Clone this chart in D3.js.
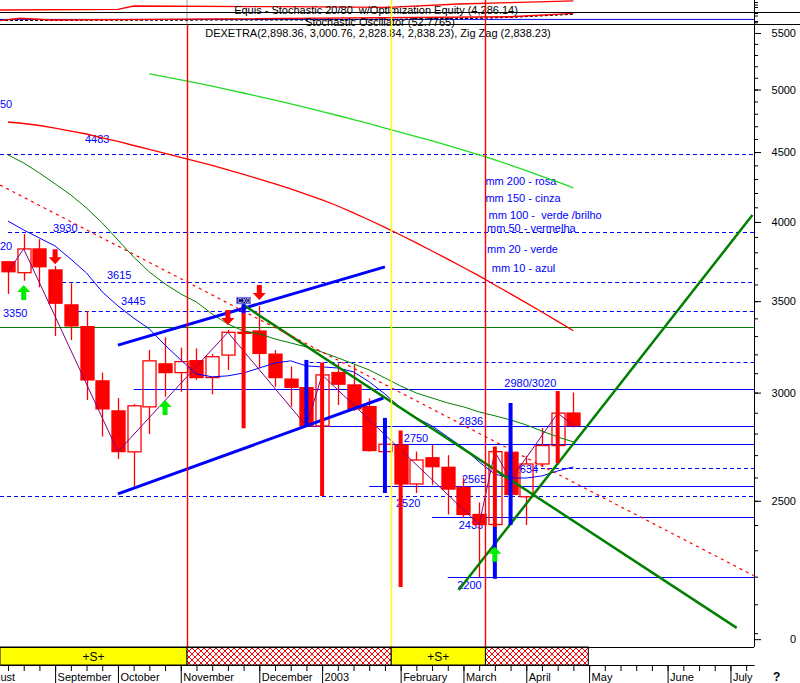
<!DOCTYPE html>
<html><head><meta charset="utf-8">
<script src="https://cdn.jsdelivr.net/npm/d3@7"></script>
<style>
body{margin:0;background:#fff;}
svg{display:block;font-family:"Liberation Sans",Arial,sans-serif;}
</style></head><body>
<svg id="c" width="800" height="683"></svg>
<script>
// ---------------- DATA ----------------
const weekDates = ["2002-08-16","2002-08-23","2002-08-30","2002-09-06","2002-09-13","2002-09-20","2002-09-27","2002-10-04","2002-10-11","2002-10-18","2002-10-25","2002-11-01","2002-11-08","2002-11-15","2002-11-22","2002-11-29","2002-12-06","2002-12-13","2002-12-20","2002-12-27","2003-01-03","2003-01-10","2003-01-17","2003-01-24","2003-01-31","2003-02-07","2003-02-14","2003-02-21","2003-02-28","2003-03-07","2003-03-14","2003-03-21","2003-03-28","2003-04-04","2003-04-11","2003-04-17","2003-04-25"];
const openV  = [3740,3672,3822,3689,3478,3353,3060,2909,2715,2929,3149,3103,3166,3077,3196,3321,3328,3201,3069,3025,2836,3103,3039,2930,2716,2745,2572,2688,2645,2557,2443,2402,2713,2517,2660,2744,2898.36];
const highV  = [3745,3920,3885,3714,3607,3442,3103,2973,2943,3223,3293,3236,3232,3202,3334,3345,3471,3223,3135,3034,3117,3152,3143,2971,2790,2750,2716,2747,2700,2600,2493,2740,2760,2697,2826,3008,3000.76];
const lowV   = [3543,3623,3583,3300,3278,2963,2786,2683,2560,2798,2979,3004,3065,2991,3117,3290,3126,3030,2930,2831,2830,2938,2909,2716,2650,2560,2533,2568,2443,2430,2198,2390,2470,2400,2650,2664,2828.84];
const closeV = [3678,3822,3709,3488,3357,3065,2919,2716,2934,3165,3103,3161,3077,3187,3321,3316,3205,3077,3027,2836,3091,3043,2919,2721,2750,2572,2678,2648,2550,2443,2402,2716,2527,2660,2744,2898,2838.23];

const maRed   = [4734,4722,4706,4686,4662,4639,4608,4581,4550,4520,4490,4460,4430,4400,4366,4333,4300,4265,4229,4190,4151,4109,4061,4013,3963,3913,3861,3809,3757,3704,3652,3597,3543,3490,3437,3383,3330];
const maLime  = [null,null,null,null,null,null,null,null,null,5134,5108,5082,5056,5028,4999,4971,4941,4911,4880,4849,4818,4786,4753,4720,4686,4652,4619,4585,4550,4514,4478,4441,4402,4362,4320,4279,4236];
const maGreen = [4478,4418,4344,4265,4186,4095,3993,3880,3770,3677,3603,3543,3495,3425,3368,3328,3312,3284,3262,3240,3212,3181,3149,3117,3075,3034,2998,2973,2948,2929,2904,2885,2865,2841,2812,2784,2761];
const maBlue  = [4006,3946,3893,3841,3757,3670,3555,3472,3402,3340,3250,3170,3096,3081,3086,3101,3127,3154,3165,3138,3133,3127,3107,3055,2993,2924,2875,2836,2784,2733,2669,2615,2598,2598,2607,2629,2647];

const zigIdx = [0,1,7,14,19,20,30,31,32,35,36];
const zigVal = [3678,3822,2716,3321,2836,3091,2402,2716,2589,2898,2838.23];

// trendlines: start index, start value, end index, end value
const trendKind = ["blue","blue","green","green","reddot"];
const trendI1 = [7,7,15,28.7,-0.51];
const trendV1 = [3250,2529,3477,2151,4257];
const trendI2 = [24,23.9,46.4,47.4,47.5];
const trendV2 = [3708,2973,2018,4047,2203];

const levelValues = [4483,3930,3615,3445,3350,3160,3020,2836,2750,2644,2565,2520,2433,2200];
const levelFrom   = [-0.51,0,3,4,-0.51,19.2,8,18.8,24.3,32.6,23,-0.51,27,28];
const levelKind   = ["dash","dash","dash","dash","green","dash","solid","solid","solid","dash","solid","dash","solid","solid"];

const labelText = ["50","4483","3930","20","3615","3445","3350","2980/3020","2836","2750","2634","2565","2520","2433","2200"];
const labelIdx  = [-0.51,4.9,2.87,-0.51,6.3,7.2,-0.32,31.6,28.7,25.2,32.2,28.9,24.7,28.7,28.6];
const labelVal  = [4847,4570,3933,3815,3633,3478,3408,3029,2841,2761,2620,2576,2474,2384,2155];

const legendText = ["mm 200 - rosa","mm 150 - cinza","mm 100 -  verde /brilho","mm 50 - vermelha","mm 20 - verde","mm 10 - azul"];
const legendIdx  = [30.4,30.4,30.6,30.5,30.5,30.8];
const legendVal  = [4257,4137,4020,3933,3796,3677];

const sigIdx  = [15,15,19,20,24,25,31,31,32,35];
const sigHigh = [3468,3492,3170,3156,2875,2814,2739,2392,2948,3008];
const sigLow  = [2825,3430,2832,2520,2533,2162,2392,2192,2400,2664];
const sigKind = ["sell","buy","buy","sell","buy","sell","sell","buy","buy","sell"];

const arrowIdx = [1,10,31,3,14,16];
const arrowVal = [3597,2963,2314,3724,3362,3507];
const arrowDir = ["up","up","up","down","down","down"];

const eventIdx  = [11.4,24.4,30.4];
const eventKind = ["red","yellow","red"];

const segBounds = [-0.51,11.4,24.4,30.4,36.95];
const segKind   = ["S","X","S","X"];

const equityIdx = [-0.51,7,8,17.7,24.2,28.7,32,36];
const equityVal = [1267,1500,2600,2367,2167,3267,3700,4286.14];
const stochIdx  = [-0.51,0.76,2.74,9.2,32,36];
const stochVal  = [29,50,35,41,63,93];
const stochSlowIdx = [-0.51,10,20,28,32,36];
const stochSlowVal = [31,34,37,44,58,85];

const yTickVals   = [5500,5000,4500,4000,3500,3000,2500,1980];
const yTickLabels = ["5500","5000","4500","4000","3500","3000","2500","0"];

// ---------------- CHART ----------------
const svg = d3.select("#c");
const FONT = "'Liberation Sans', Arial, sans-serif";
const x = d3.scaleLinear().domain([-0.51,47.5]).range([0,754]);
const y = d3.scaleLog().domain([1954,5584]).range([647,24]);
const step = x(1)-x(0);
const bw = step*0.83;

const defs = svg.append("defs");
const pat = defs.append("pattern").attr("id","hatch").attr("patternUnits","userSpaceOnUse").attr("width",6).attr("height",6);
pat.append("rect").attr("width",6).attr("height",6).attr("fill","#fff");
pat.append("path").attr("d","M0,0L6,6M6,0L0,6").attr("stroke","#ff0000").attr("stroke-width",1);
defs.append("clipPath").attr("id","plot").append("rect").attr("x",0).attr("y",25).attr("width",754).attr("height",622);
defs.append("clipPath").attr("id","topc").append("rect").attr("x",0).attr("y",0).attr("width",754).attr("height",25);

// ---- top panels ----
const topG = svg.append("g").attr("clip-path","url(#topc)");
const eqY = d3.scaleLinear().domain([500,4600]).range([12.3,0]);
const stY = d3.scaleLinear().domain([0,100]).range([24,12.5]);
topG.append("line").attr("x1",x(11.4)).attr("x2",x(11.4)).attr("y1",0).attr("y2",25).attr("stroke","#a0a0a0");
topG.append("path").datum(equityIdx.map((d,i)=>[d,equityVal[i]]))
  .attr("d",d3.line().x(d=>x(d[0])).y(d=>eqY(d[1]))).attr("fill","none").attr("stroke","#ff0000").attr("stroke-width",1.3);
topG.append("line").attr("x1",0).attr("x2",754).attr("y1",stY(40)).attr("y2",stY(40)).attr("stroke","#0000ff");
topG.append("path").datum(stochSlowIdx.map((d,i)=>[d,stochSlowVal[i]]))
  .attr("d",d3.line().x(d=>x(d[0])).y(d=>stY(d[1]))).attr("fill","none").attr("stroke","#000").attr("stroke-dasharray","3,2").attr("stroke-width",1.2);
topG.append("path").datum(stochIdx.map((d,i)=>[d,stochVal[i]]))
  .attr("d",d3.line().x(d=>x(d[0])).y(d=>stY(d[1]))).attr("fill","none").attr("stroke","#ff0000").attr("stroke-width",1.3);
svg.append("line").attr("x1",0).attr("x2",800).attr("y1",12.5).attr("y2",12.5).attr("stroke","#000");
svg.append("line").attr("x1",0).attr("x2",800).attr("y1",24.5).attr("y2",24.5).attr("stroke","#000");
svg.append("text").attr("x",376).attr("y",14).attr("text-anchor","middle").attr("font-size",11).attr("font-family",FONT)
  .style("white-space","pre").text("Equis - Stochastic 20/80  w/Optimization Equity (4,286.14)");
svg.append("text").attr("x",380).attr("y",25.5).attr("text-anchor","middle").attr("font-size",11).attr("font-family",FONT)
  .text("Stochastic Oscillator (52.7765)");
svg.append("text").attr("x",378).attr("y",37).attr("text-anchor","middle").attr("font-size",11).attr("font-family",FONT)
  .text("DEXETRA(2,898.36, 3,000.76, 2,828.84, 2,838.23), Zig Zag (2,838.23)");

// ---- main plot ----
const plot = svg.append("g").attr("clip-path","url(#plot)");

// horizontal levels
levelValues.forEach((v,i)=>{
  const k = levelKind[i];
  plot.append("line").attr("x1",x(levelFrom[i])).attr("x2",754).attr("y1",Math.round(y(v))+0.5).attr("y2",Math.round(y(v))+0.5)
    .attr("stroke", k==="green" ? "#008000" : "#0000ff").attr("stroke-width",1)
    .attr("stroke-dasharray", k==="dash" ? "4,3" : null);
});
// level labels
labelText.forEach((t,i)=>{
  plot.append("text").attr("x",x(labelIdx[i])).attr("y",y(labelVal[i])).attr("font-size",11).attr("font-family",FONT)
    .attr("fill","#0000ff").text(t);
});
legendText.forEach((t,i)=>{
  plot.append("text").attr("x",x(legendIdx[i])).attr("y",y(legendVal[i])).attr("font-size",11).attr("font-family",FONT)
    .attr("fill","#0000ff").style("white-space","pre").text(t);
});

// candles
const cg = plot.append("g");
openV.forEach((o,i)=>{
  const c = closeV[i], h = highV[i], l = lowV[i];
  const cx = Math.round(x(i))+0.5;
  const top = y(Math.max(o,c)), bot = y(Math.min(o,c));
  const bull = c >= o;
  cg.append("line").attr("x1",cx).attr("x2",cx).attr("y1",y(h)).attr("y2",top).attr("stroke","#ff0000").attr("stroke-width",1.3);
  cg.append("line").attr("x1",cx).attr("x2",cx).attr("y1",bot).attr("y2",y(l)).attr("stroke","#ff0000").attr("stroke-width",1.3);
  cg.append("rect").attr("x",cx-bw/2).attr("y",top).attr("width",bw).attr("height",Math.max(bot-top,1))
    .attr("fill", bull ? "none" : "#ff0000").attr("stroke","#ff0000").attr("stroke-width", 1.3);
});

// moving averages
const maLine = d3.line().defined(d=>d[1]!=null).x(d=>x(d[0])).y(d=>y(d[1]));
function drawMA(arr,color,w){
  plot.append("path").datum(arr.map((v,i)=>[i,v])).attr("d",maLine).attr("fill","none").attr("stroke",color).attr("stroke-width",w);
}
drawMA(maRed,"#ff0000",1.3);
drawMA(maLime,"#22dd22",1.3);
drawMA(maGreen,"#008000",1);
drawMA(maBlue,"#0000ff",1);

// zig zag
plot.append("path").datum(zigIdx.map((d,i)=>[d,zigVal[i]])).attr("d",maLine).attr("fill","none").attr("stroke","#800080").attr("stroke-width",1);

// trendlines
trendKind.forEach((k,i)=>{
  const ln = plot.append("line").attr("x1",x(trendI1[i])).attr("y1",y(trendV1[i])).attr("x2",x(trendI2[i])).attr("y2",y(trendV2[i]));
  if(k==="blue") ln.attr("stroke","#0000ff").attr("stroke-width",3);
  else if(k==="green") ln.attr("stroke","#008000").attr("stroke-width",2.5);
  else ln.attr("stroke","#ff0000").attr("stroke-width",1.2).attr("stroke-dasharray","3,4");
});

// signal bars
sigIdx.forEach((s,i)=>{
  plot.append("line").attr("x1",x(s)).attr("x2",x(s)).attr("y1",y(sigHigh[i])).attr("y2",y(sigLow[i]))
    .attr("stroke", sigKind[i]==="sell" ? "#ff0000" : "#0000ff").attr("stroke-width",4);
});

// arrows
arrowIdx.forEach((a,i)=>{
  const cx = x(a), ty = y(arrowVal[i]);
  let d;
  if(arrowDir[i]==="up"){
    d = `M${cx},${ty}L${cx-6.5},${ty+7}L${cx-2.5},${ty+7}L${cx-2.5},${ty+15}L${cx+2.5},${ty+15}L${cx+2.5},${ty+7}L${cx+6.5},${ty+7}Z`;
  } else {
    d = `M${cx},${ty}L${cx-6.5},${ty-7}L${cx-2.5},${ty-7}L${cx-2.5},${ty-15}L${cx+2.5},${ty-15}L${cx+2.5},${ty-7}L${cx+6.5},${ty-7}Z`;
  }
  plot.append("path").attr("d",d).attr("fill", arrowDir[i]==="up" ? "#00ee00" : "#ff0000");
});

// CX0 marker
{
  const cx = x(15), ty = y(3523);
  plot.append("rect").attr("x",cx-7).attr("y",ty).attr("width",14).attr("height",6.5).attr("fill","#000080").attr("stroke","#8888ff").attr("stroke-width",0.8);
  plot.append("text").attr("x",cx).attr("y",ty+5.6).attr("text-anchor","middle").attr("font-size",6.5).attr("font-family",FONT).attr("fill","#fff").text("CX0");
}

// event vertical lines
eventIdx.forEach((e,i)=>{
  const xx = Math.round(x(e))+0.5;
  svg.append("line").attr("x1",xx).attr("x2",xx).attr("y1", i===0 ? 25 : 0).attr("y2",647)
    .attr("stroke", eventKind[i]==="red" ? "#ff0000" : "#ffff00").attr("stroke-width",1.4);
});

// ---- bottom band ----
segKind.forEach((k,i)=>{
  const x0 = x(segBounds[i]), x1 = x(segBounds[i+1]);
  svg.append("rect").attr("x",x0).attr("y",647).attr("width",x1-x0).attr("height",18)
    .attr("fill", k==="S" ? "#ffff00" : "url(#hatch)").attr("stroke","#000").attr("stroke-width",1);
  if(k==="S") svg.append("text").attr("x",(x0+x1)/2).attr("y",661).attr("text-anchor","middle")
    .attr("font-size",12).attr("font-family",FONT).text("+S+");
});
svg.append("line").attr("x1",0).attr("x2",754).attr("y1",647.5).attr("y2",647.5).attr("stroke","#000");

// ---- y axis ----
svg.append("line").attr("x1",754.5).attr("x2",754.5).attr("y1",0).attr("y2",647).attr("stroke","#000");
[2.5,5,7.5,13.5,16,21.5].forEach(t=>{
  svg.append("line").attr("x1",754).attr("x2",758).attr("y1",t).attr("y2",t).attr("stroke","#000");
});
const yMinor = d3.axisRight(y).tickValues(d3.range(2000,5700,100)).tickSize(4).tickFormat("").tickSizeOuter(0);
const gm = svg.append("g").attr("transform","translate(754,0)").call(yMinor);
gm.select(".domain").remove();
const yAxis = d3.axisRight(y).tickValues(yTickVals).tickFormat((d,i)=>yTickLabels[i]).tickSize(7).tickSizeOuter(0);
const ga = svg.append("g").attr("transform","translate(754,0)").call(yAxis)
  .attr("font-size",11).attr("font-family",FONT);
ga.select(".domain").remove();
ga.selectAll("text").attr("text-anchor","end").attr("x",42);

// ---- x axis ----
const axisWeeks = d3.range(-3,48);
const base = new Date(weekDates[0]+"T00:00:00");
const wDate = i => d3.timeDay.offset(base, 7*i);
const monthIdx = axisWeeks.filter(i => wDate(i).getMonth() !== wDate(i-1).getMonth());
const fmtM = d3.timeFormat("%B"), fmtY = d3.timeFormat("%Y");
const xMinor = d3.axisBottom(x).tickValues(axisWeeks).tickSize(6).tickFormat("").tickSizeOuter(0);
svg.append("g").attr("transform","translate(0,665)").call(xMinor);
const xMajor = d3.axisBottom(x).tickValues(monthIdx).tickSize(18).tickSizeOuter(0)
  .tickFormat(i => wDate(i).getMonth()===0 ? fmtY(wDate(i)) : fmtM(wDate(i)));
const gx = svg.append("g").attr("transform","translate(0,665)").call(xMajor)
  .attr("font-size",11).attr("font-family",FONT);
gx.select(".domain").remove();
// a label whose tick lies left of the plot shows only its visible tail, as in the reference
gx.selectAll(".tick").each(function(d){
  const t = d3.select(this).select("text");
  t.attr("text-anchor","start").attr("x",2).attr("y",16).attr("dy",null);
  if (x(d) + 2 < 0) { t.attr("x", -x(d)).text(t.text().slice(3)); }
});
svg.append("text").attr("x",773).attr("y",681).attr("font-size",12).attr("font-weight","bold").attr("font-family",FONT).text("?");
</script>
</body></html>
